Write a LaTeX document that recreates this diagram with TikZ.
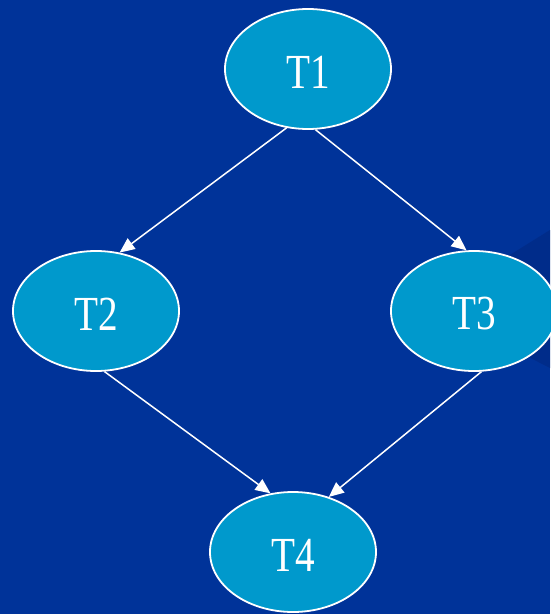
\documentclass[tikz,border=0pt]{standalone}
\usepackage{fontspec}
\setmainfont{Liberation Serif}
\usetikzlibrary{shapes.geometric,arrows.meta}
\definecolor{bgblue}{RGB}{0,51,153}
\definecolor{shadowblue}{RGB}{0,44,138}
\definecolor{nodeblue}{RGB}{0,153,204}
\begin{document}
\begin{tikzpicture}[x=1pt,y=1pt,
  tnode/.style={ellipse,draw=white,line width=1.8pt,fill=nodeblue,minimum width=166pt,minimum height=120pt,inner sep=0pt,text=white,font=\fontsize{49}{49}\selectfont},
  lbl/.style={text=white,font=\fontsize{49}{49}\selectfont,inner sep=0pt},
  conn/.style={draw=white,line width=1.5pt,-{Triangle[length=15pt,width=13pt]}}]
\fill[bgblue] (0,0) rectangle (550,-614);
\useasboundingbox (0,0) rectangle (550,-614);
\fill[shadowblue] (550,-230) -- (505,-258) -- (505,-345) -- (550,-368) -- cycle;
\node[tnode] (T1) at (308,-69) {};
\node[tnode] (T2) at (96,-311) {};
\node[tnode] (T3) at (474,-311) {};
\node[tnode] (T4) at (293,-552) {};
\node[lbl] (L1) at ([yshift=-3pt]T1.center) {\scalebox{0.8}[1]{T1}};
\node[lbl] (L2) at ([yshift=-3pt]T2.center) {\scalebox{0.8}[1]{T2}};
\node[lbl] (L3) at ([yshift=-3pt]T3.center) {\scalebox{0.8}[1]{T3}};
\node[lbl] (L4) at ([yshift=-3pt]T4.center) {\scalebox{0.8}[1]{T4}};
\draw[conn] (T1.-110.7) -- (T2.68.8);
\draw[conn] (T1.-83.5) -- (T3.97.4);
\draw[conn] (T2.-82.5) -- (T4.111);
\draw[conn] (T3.-83.5) -- (T4.57.7);
\end{tikzpicture}
\end{document}
